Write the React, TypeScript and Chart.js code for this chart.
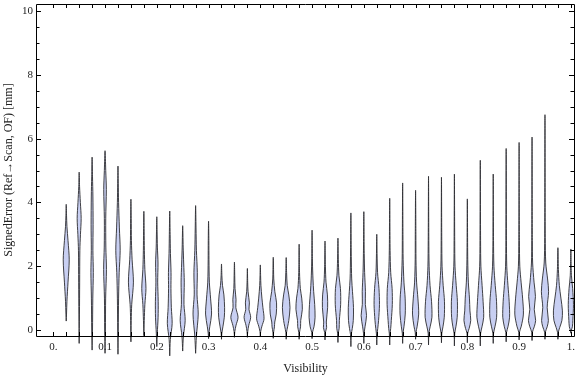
import React, { useEffect, useRef } from "react";
import { Chart, registerables } from "chart.js";

Chart.register(...registerables);

// Visibility categories (violin centres)
const VISIBILITY = [
  0.025, 0.05, 0.075, 0.1, 0.125, 0.15, 0.175, 0.2, 0.225, 0.25,
  0.275, 0.3, 0.325, 0.35, 0.375, 0.4, 0.425, 0.45, 0.475, 0.5,
  0.525, 0.55, 0.575, 0.6, 0.625, 0.65, 0.675, 0.7, 0.725, 0.75,
  0.775, 0.8, 0.825, 0.85, 0.875, 0.9, 0.925, 0.95, 0.975, 1.0,
];

// Minimum and maximum signed error [mm] of each distribution
const ERR_MIN = [
  0.28, -0.42, -0.63, -0.73, -0.76, -0.37, -0.18, -0.52, -0.81, -0.66,
  -0.73, -0.27, -0.29, -0.23, -0.23, -0.22, -0.26, -0.29, -0.29, -0.27,
  -0.31, -0.39, -0.52, -0.42, -0.47, -0.47, -0.42, -0.29, -0.47, -0.4,
  -0.5, -0.4, -0.5, -0.42, -0.37, -0.31, -0.33, -0.29, -0.29, -0.1,
];
const ERR_MAX = [
  3.94, 4.95, 5.42, 5.62, 5.14, 4.1, 3.72, 3.55, 3.73, 3.27,
  3.9, 3.41, 2.07, 2.13, 1.93, 2.04, 2.28, 2.27, 2.69, 3.13,
  2.79, 2.88, 3.67, 3.71, 3.0, 4.13, 4.61, 4.38, 4.82, 4.79,
  4.89, 4.11, 5.32, 4.89, 5.69, 5.88, 6.05, 6.75, 2.58, 2.54,
];

// Density estimate knots per distribution: [signed error, relative density]
const DENSITY_KNOTS: number[][][] = [
  [[0.5, 0.3], [0.9, 0.7], [1.5, 1.8], [2.2, 3.0], [2.8, 1.8], [3.25, 0.7], [3.6, 0.3]],
  [[0.5, 0.3], [1.5, 0.5], [2.5, 0.7], [3.0, 1.3], [3.5, 2.0], [4.0, 1.2], [4.5, 0.4]],
  [[0, 0.4], [1.0, 0.7], [1.8, 1.2], [2.5, 0.8], [3.3, 1.0], [4.2, 0.8], [4.8, 0.4]],
  [[0, 0.4], [1.0, 0.6], [1.9, 1.4], [2.6, 0.8], [3.5, 0.7], [4.4, 1.3], [5.0, 0.7]],
  [[0, 0.3], [1.0, 0.6], [1.8, 1.2], [2.5, 2.2], [3.2, 1.4], [4.0, 0.6], [4.6, 0.3]],
  [[0.3, 0.3], [0.8, 0.8], [1.5, 2.5], [2.2, 1.2], [2.8, 0.5], [3.5, 0.3]],
  [[0.3, 0.4], [0.8, 1.0], [1.3, 2.1], [1.9, 1.0], [2.5, 0.5], [3.1, 0.3]],
  [[-0.1, 0.5], [0.4, 1.3], [0.9, 1.4], [1.5, 0.9], [2.1, 1.2], [2.6, 0.6], [3.1, 0.3]],
  [[-0.3, 0.6], [0.2, 2.4], [0.7, 1.6], [1.3, 1.2], [1.8, 1.3], [2.4, 0.7], [3.0, 0.4]],
  [[-0.2, 0.7], [0.3, 2.5], [0.8, 1.3], [1.5, 1.6], [2.1, 1.0], [2.6, 0.5]],
  [[-0.2, 0.8], [0.5, 2.6], [1.1, 1.4], [1.8, 1.7], [2.5, 0.8], [3.2, 0.4]],
  [[-0.1, 0.35], [0.1, 1.2], [0.5, 3.0], [1.0, 2.0], [1.5, 0.8], [2.2, 0.4], [2.8, 0.3]],
  [[-0.1, 0.35], [0.1, 1.4], [0.4, 2.8], [0.7, 3.1], [1.1, 2.4], [1.4, 1.0], [1.7, 0.4]],
  [[-0.05, 0.35], [0.15, 1.6], [0.4, 3.6], [0.7, 1.4], [0.95, 1.6], [1.3, 0.6], [1.7, 0.3]],
  [[-0.05, 0.35], [0.15, 1.4], [0.4, 3.3], [0.65, 1.6], [0.85, 2.0], [1.2, 0.7], [1.5, 0.3]],
  [[-0.05, 0.35], [0.12, 1.6], [0.35, 3.7], [0.7, 2.6], [1.0, 1.6], [1.4, 0.6], [1.7, 0.3]],
  [[-0.07, 0.35], [0.1, 1.2], [0.25, 1.5], [0.5, 3.0], [0.85, 3.3], [1.2, 1.6], [1.6, 0.5], [1.9, 0.3]],
  [[-0.08, 0.35], [0.1, 1.4], [0.3, 2.6], [0.7, 3.8], [1.1, 2.6], [1.4, 1.0], [1.8, 0.4]],
  [[-0.08, 0.35], [0.1, 1.4], [0.3, 1.6], [0.65, 3.2], [1.0, 2.6], [1.3, 1.2], [1.8, 0.4]],
  [[-0.08, 0.35], [0.1, 1.9], [0.4, 3.0], [0.8, 2.6], [1.2, 1.6], [1.6, 0.9], [2.1, 0.4]],
  [[-0.08, 0.35], [0.08, 1.6], [0.25, 1.3], [0.7, 2.6], [1.1, 2.4], [1.5, 1.0], [2.0, 0.4]],
  [[-0.1, 0.35], [0.05, 1.2], [0.3, 1.4], [0.8, 2.7], [1.3, 2.5], [1.7, 1.0], [2.2, 0.4]],
  [[-0.15, 0.35], [0.05, 1.4], [0.3, 2.4], [0.7, 2.6], [1.2, 1.6], [1.6, 0.8], [2.3, 0.4]],
  [[-0.1, 0.35], [0.1, 1.2], [0.45, 2.7], [0.8, 1.5], [1.2, 1.6], [1.8, 0.8], [2.4, 0.4]],
  [[-0.12, 0.35], [0.05, 1.0], [0.3, 1.8], [0.8, 2.7], [1.3, 2.2], [1.8, 0.8], [2.4, 0.3]],
  [[-0.12, 0.35], [0.05, 1.0], [0.3, 1.6], [0.8, 2.6], [1.3, 2.4], [1.8, 1.0], [2.5, 0.4]],
  [[-0.1, 0.35], [0.1, 1.3], [0.5, 2.6], [1.0, 2.5], [1.5, 1.3], [2.2, 0.5], [3.0, 0.3]],
  [[-0.08, 0.35], [0.1, 1.5], [0.5, 3.1], [1.0, 2.3], [1.5, 1.0], [2.2, 0.4], [3.0, 0.3]],
  [[-0.1, 0.35], [0.1, 1.6], [0.4, 3.4], [0.9, 3.0], [1.4, 1.5], [2.0, 0.6], [2.8, 0.3]],
  [[-0.1, 0.35], [0.1, 1.5], [0.4, 2.8], [0.9, 3.0], [1.4, 1.7], [2.0, 0.6], [2.8, 0.3]],
  [[-0.1, 0.35], [0.1, 1.5], [0.4, 2.8], [0.9, 3.0], [1.4, 1.8], [2.0, 0.6], [2.8, 0.3]],
  [[-0.1, 0.35], [0.05, 1.8], [0.3, 3.4], [0.6, 2.6], [1.0, 2.1], [1.5, 1.0], [2.2, 0.4]],
  [[-0.1, 0.35], [0.1, 1.7], [0.4, 3.4], [0.9, 2.8], [1.4, 1.8], [2.0, 0.6], [2.8, 0.3]],
  [[-0.1, 0.35], [0.1, 1.7], [0.4, 3.4], [0.9, 3.3], [1.4, 2.0], [2.0, 0.7], [2.8, 0.3]],
  [[-0.08, 0.35], [0.1, 1.8], [0.4, 3.4], [0.9, 3.0], [1.4, 1.8], [2.0, 0.6], [2.8, 0.3]],
  [[-0.07, 0.35], [0.12, 2.2], [0.5, 4.3], [1.0, 3.5], [1.5, 2.0], [2.0, 0.7], [2.8, 0.3]],
  [[-0.07, 0.35], [0.1, 2.2], [0.3, 3.6], [0.65, 2.2], [1.05, 3.4], [1.5, 2.0], [2.1, 0.6], [2.8, 0.3]],
  [[-0.07, 0.35], [0.1, 2.2], [0.3, 3.4], [0.7, 2.2], [1.2, 3.6], [1.6, 2.6], [2.1, 0.8], [2.9, 0.3]],
  [[-0.08, 0.35], [0.08, 1.8], [0.3, 4.0], [0.6, 4.5], [1.0, 3.0], [1.4, 1.4], [1.9, 0.5]],
  [[-0.02, 0.35], [0.1, 1.5], [0.3, 2.0], [0.8, 2.6], [1.3, 1.8], [1.7, 0.6]],
];

// Axis tick labels
const X_LABEL_VALUES = [0, 0.1, 0.2, 0.3, 0.4, 0.5, 0.6, 0.7, 0.8, 0.9, 1.0];
const X_LABELS = ["0.", "0.1", "0.2", "0.3", "0.4", "0.5", "0.6", "0.7", "0.8", "0.9", "1."];
const Y_LABEL_VALUES = [0, 2, 4, 6, 8, 10];
const Y_LABELS = ["0", "2", "4", "6", "8", "10"];
const X_MINOR_TICKS = [0, ...VISIBILITY];
const Y_MINOR_TICKS = [0, 0.5, 1, 1.5, 2, 2.5, 3, 3.5, 4, 4.5, 5, 5.5, 6, 6.5, 7, 7.5, 8, 8.5, 9, 9.5, 10];

const X_TITLE = "Visibility";
const Y_TITLE = "SignedError (Ref\u2192Scan, OF) [mm]";

const DENSITY_TO_X = 1 / 517.5;
const FONT_FAMILY = '"Liberation Serif", "Times New Roman", serif';

const framePlugin = {
  id: "frameTicks",
  afterDraw(chart: any) {
    const { ctx, chartArea } = chart;
    const xs = chart.scales.x;
    const ys = chart.scales.y;
    const { left, right, top, bottom } = chartArea;
    ctx.save();
    ctx.strokeStyle = "#000";
    ctx.lineWidth = 1;
    ctx.beginPath();
    ctx.rect(Math.round(left) + 0.5, Math.round(top) + 0.5, Math.round(right) - Math.round(left) - 1, Math.round(bottom) - Math.round(top));
    ctx.stroke();
    ctx.beginPath();
    for (const v of X_MINOR_TICKS) {
      const px = Math.round(xs.getPixelForValue(v)) + 0.5;
      ctx.moveTo(px, Math.round(bottom));
      ctx.lineTo(px, Math.round(bottom) - 4);
      ctx.moveTo(px, Math.round(top));
      ctx.lineTo(px, Math.round(top) + 4);
    }
    for (const v of Y_MINOR_TICKS) {
      const py = Math.round(ys.getPixelForValue(v)) + 0.5;
      const len = Y_LABEL_VALUES.includes(v) ? 5 : 3.5;
      ctx.moveTo(Math.round(left), py);
      ctx.lineTo(Math.round(left) + len, py);
      ctx.moveTo(Math.round(right) - 1, py);
      ctx.lineTo(Math.round(right) - 1 - len, py);
    }
    ctx.stroke();
    ctx.restore();
  },
};

export default function App() {
  const canvasRef = useRef<HTMLCanvasElement | null>(null);

  useEffect(() => {
    const canvas = canvasRef.current;
    if (!canvas) return;

    const datasets = VISIBILITY.map((c, i) => {
      const knots = [[ERR_MIN[i], 0], ...DENSITY_KNOTS[i], [ERR_MAX[i], 0]];
      const rightSide = knots.map(([e, d]) => ({ x: c + d * DENSITY_TO_X, y: e }));
      const leftSide = knots
        .slice(0, -1)
        .reverse()
        .map(([e, d]) => ({ x: c - d * DENSITY_TO_X, y: e }));
      return {
        label: String(c),
        data: [...rightSide, ...leftSide],
        showLine: true,
        fill: "shape",
        backgroundColor: "rgb(200,207,242)",
        borderColor: "rgba(45,45,50,0.9)",
        borderWidth: 1,
        pointRadius: 0,
        pointHoverRadius: 0,
        tension: 0.3,
        clip: false,
      };
    });

    const chart = new Chart(canvas, {
      type: "scatter",
      data: { datasets } as any,
      plugins: [framePlugin],
      options: {
        animation: false,
        responsive: false,
        devicePixelRatio: 1,
        events: [],
        layout: { padding: { top: 4, right: 1, left: 0, bottom: 0 } },
        elements: { line: { capBezierPoints: false } },
        plugins: { legend: { display: false }, tooltip: { enabled: false } },
        scales: {
          x: {
            type: "linear",
            min: -0.0334,
            max: 1.008,
            grid: { display: false, drawTicks: false },
            border: { display: false },
            afterBuildTicks: (scale: any) => {
              scale.ticks = X_LABEL_VALUES.map((v) => ({ value: v }));
            },
            afterFit: (scale: any) => {
              scale.height = 41;
              scale.paddingLeft = 0;
              scale.paddingRight = 0;
            },
            ticks: {
              autoSkip: false,
              maxRotation: 0,
              minRotation: 0,
              padding: 5,
              color: "#222",
              font: { family: FONT_FAMILY, size: 11 },
              callback: (v: any) => {
                const idx = X_LABEL_VALUES.findIndex((t) => Math.abs(t - Number(v)) < 1e-9);
                return idx >= 0 ? X_LABELS[idx] : "";
              },
            },
            title: {
              display: true,
              text: X_TITLE,
              color: "#222",
              font: { family: FONT_FAMILY, size: 12 },
              padding: { top: 0, bottom: 1 },
            },
          },
          y: {
            type: "linear",
            min: -0.188,
            max: 10.22,
            grid: { display: false, drawTicks: false },
            border: { display: false },
            afterBuildTicks: (scale: any) => {
              scale.ticks = Y_LABEL_VALUES.map((v) => ({ value: v }));
            },
            afterFit: (scale: any) => {
              scale.width = 36;
              scale.paddingTop = 0;
              scale.paddingBottom = 0;
            },
            ticks: {
              padding: 3,
              color: "#222",
              font: { family: FONT_FAMILY, size: 11 },
              callback: (v: any) => {
                const idx = Y_LABEL_VALUES.findIndex((t) => Math.abs(t - Number(v)) < 1e-9);
                return idx >= 0 ? Y_LABELS[idx] : "";
              },
            },
            title: {
              display: true,
              text: Y_TITLE,
              color: "#222",
              font: { family: FONT_FAMILY, size: 12 },
              padding: { top: 2, bottom: 0 },
            },
          },
        },
      } as any,
    });

    return () => chart.destroy();
  }, []);

  return (
    <div style={{ position: "fixed", left: 0, top: 0, width: 576, height: 377, background: "#fff" }}>
      <canvas ref={canvasRef} width={576} height={377} style={{ display: "block", width: 576, height: 377 }} />
    </div>
  );
}
